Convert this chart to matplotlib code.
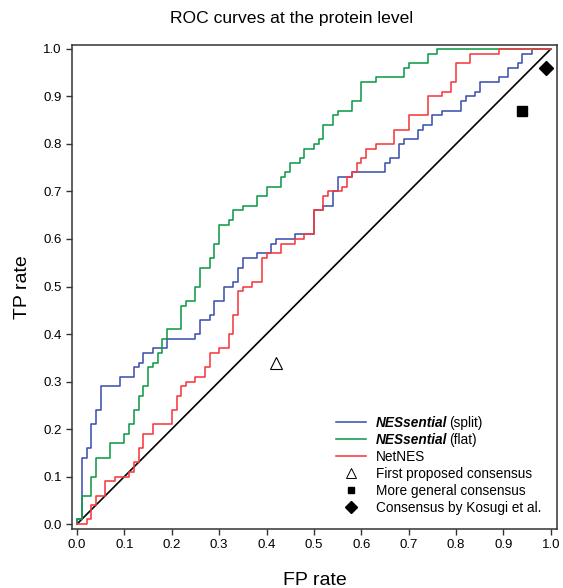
import matplotlib
matplotlib.use('Agg')
import matplotlib.pyplot as plt
import numpy as np

plt.rcParams['font.family'] = ['Liberation Sans', 'DejaVu Sans']

# ROC step points: fpr where the curve rises, tpr after the rise
split_fpr = [0, 0, 0.01, 0.02, 0.03, 0.04, 0.05, 0.09, 0.12, 0.13, 0.14, 0.16, 0.19,
             0.25, 0.26, 0.28, 0.29, 0.31, 0.33, 0.34, 0.35, 0.38, 0.41, 0.42, 0.46,
             0.50, 0.52, 0.54, 0.55, 0.58, 0.65, 0.66, 0.68, 0.69, 0.72, 0.73, 0.75,
             0.77, 0.81, 0.82, 0.84, 0.85, 0.89, 0.91, 0.93, 0.94, 0.96, 1.0]
split_tpr = [0, 0.01, 0.14, 0.16, 0.21, 0.24, 0.29, 0.31, 0.33, 0.34, 0.36, 0.37, 0.39,
             0.40, 0.43, 0.44, 0.47, 0.50, 0.51, 0.54, 0.56, 0.57, 0.59, 0.60, 0.61,
             0.66, 0.67, 0.70, 0.73, 0.74, 0.76, 0.77, 0.80, 0.81, 0.83, 0.84, 0.86,
             0.87, 0.89, 0.90, 0.91, 0.93, 0.94, 0.96, 0.97, 0.99, 1.0, 1.0]

flat_fpr = [0, 0, 0.01, 0.03, 0.04, 0.07, 0.10, 0.11, 0.12, 0.13, 0.14, 0.15, 0.16,
            0.17, 0.18, 0.19, 0.22, 0.23, 0.25, 0.26, 0.28, 0.29, 0.30, 0.32, 0.33,
            0.35, 0.38, 0.40, 0.43, 0.44, 0.45, 0.47, 0.48, 0.50, 0.51, 0.52, 0.54,
            0.55, 0.58, 0.60, 0.63, 0.69, 0.70, 0.74, 0.76, 1.0]
flat_tpr = [0, 0.01, 0.06, 0.10, 0.14, 0.17, 0.19, 0.21, 0.24, 0.27, 0.29, 0.33, 0.34,
            0.36, 0.39, 0.41, 0.46, 0.47, 0.50, 0.54, 0.56, 0.59, 0.63, 0.64, 0.66,
            0.67, 0.69, 0.71, 0.73, 0.74, 0.76, 0.77, 0.79, 0.80, 0.81, 0.84, 0.86,
            0.87, 0.89, 0.93, 0.94, 0.96, 0.97, 0.99, 1.0, 1.0]

netnes_fpr = [0, 0.02, 0.03, 0.04, 0.06, 0.08, 0.11, 0.12, 0.13, 0.14, 0.16, 0.20,
              0.21, 0.22, 0.23, 0.25, 0.27, 0.28, 0.30, 0.32, 0.33, 0.34, 0.35, 0.37,
              0.39, 0.40, 0.43, 0.46, 0.48, 0.50, 0.52, 0.53, 0.56, 0.57, 0.58, 0.59,
              0.60, 0.61, 0.63, 0.67, 0.70, 0.74, 0.77, 0.79, 0.80, 0.83, 0.89, 1.0]
netnes_tpr = [0, 0.01, 0.04, 0.06, 0.09, 0.10, 0.11, 0.13, 0.16, 0.19, 0.21, 0.24,
              0.27, 0.29, 0.30, 0.31, 0.33, 0.36, 0.37, 0.40, 0.44, 0.49, 0.50, 0.51,
              0.56, 0.57, 0.59, 0.60, 0.61, 0.66, 0.69, 0.70, 0.71, 0.73, 0.74, 0.76,
              0.77, 0.79, 0.80, 0.83, 0.86, 0.90, 0.91, 0.93, 0.97, 0.99, 1.0, 1.0]

# single-point consensus predictors (fpr, tpr)
first_consensus = (0.42, 0.34)
general_consensus = (0.94, 0.87)
kosugi_consensus = (0.99, 0.96)

# legend entries: (bold italic part, plain part)
legend_labels = [('NESsential', '(split)'), ('NESsential', '(flat)'), ('', 'NetNES'),
                 ('', 'First proposed consensus'), ('', 'More general consensus'),
                 ('', 'Consensus by Kosugi et al.')]

blue = '#3f51b0'
green = '#109a48'
red = '#f53a3f'
lw = 1.15

fig = plt.figure(figsize=(5.63, 5.88), dpi=100)
ax = fig.add_axes([0.128, 0.1003, 0.861, 0.8232])

ax.plot([0, 1], [0, 1], color='black', lw=1.2)
ax.step(split_fpr, split_tpr, where='post', color=blue, lw=lw)
ax.step(flat_fpr, flat_tpr, where='post', color=green, lw=lw)
ax.step(netnes_fpr, netnes_tpr, where='post', color=red, lw=lw)

ax.plot(*first_consensus, marker='^', ms=8.5, mfc='white', mec='black', mew=0.8, ls='none')
ax.plot(*general_consensus, marker='s', ms=7, color='black', ls='none')
ax.plot(*kosugi_consensus, marker='D', ms=7, color='black', ls='none')

ax.set_xlim(-0.0105, 1.0127)
ax.set_ylim(-0.0105, 1.0084)
ticks = np.round(np.arange(0, 1.01, 0.1), 1)
ax.set_xticks(ticks)
ax.set_yticks(ticks)
ax.set_xticklabels([f'{t:.1f}' for t in ticks])
ax.set_yticklabels([f'{t:.1f}' for t in ticks])
ax.tick_params(labelsize=9.5, length=4, width=1, color='#333333', pad=3.5)
for s in ax.spines.values():
    s.set_linewidth(1.1)
    s.set_color('#333333')

ax.set_xlabel('FP rate', fontsize=14, labelpad=15)
ax.set_ylabel('TP rate', fontsize=14, labelpad=9)
fig.text(291.5 / 563, 1 - 19 / 588, 'ROC curves at the protein level',
         fontsize=12.6, ha='center', va='center')

# legend drawn by hand so the bold italic name and plain text share one row
handle_styles = [
    dict(color=blue, lw=lw),
    dict(color=green, lw=lw),
    dict(color=red, lw=lw),
    dict(marker='^', ms=6.5, mfc='white', mec='black', mew=0.7, ls='none'),
    dict(marker='s', ms=5, color='black', ls='none'),
    dict(marker='D', ms=6.5, color='black', ls='none'),
]
x_line = (0.544, 0.606)
x_text = 0.626
y0 = (529 - 421.7) / 484
dy = 17 / 484
fs = 9.8
for i, ((bold, plain), style) in enumerate(zip(legend_labels, handle_styles)):
    y = y0 - i * dy
    if 'marker' in style:
        ax.plot([sum(x_line) / 2], [y], transform=ax.transAxes, clip_on=False, **style)
    else:
        ax.plot(x_line, [y, y], transform=ax.transAxes, clip_on=False, **style)
    if bold:
        t = ax.text(x_text, y, bold, transform=ax.transAxes, fontsize=fs,
                    fontweight='bold', fontstyle='italic', va='center_baseline')
        ax.annotate(plain, xy=(1, 0), xycoords=t, xytext=(1.5, 0),
                    textcoords='offset points', fontsize=fs, va='bottom')
    else:
        ax.text(x_text, y, plain, transform=ax.transAxes, fontsize=fs,
                va='center_baseline')

fig.savefig('out.png', dpi=100)
